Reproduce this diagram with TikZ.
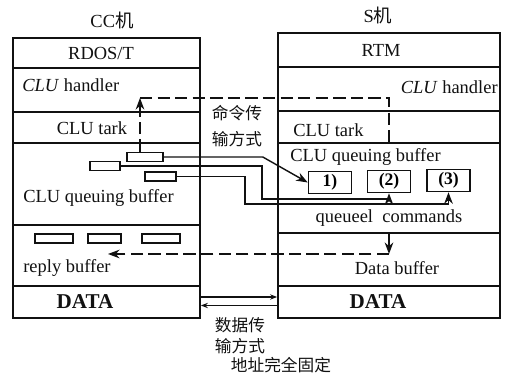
\documentclass[tikz,border=0pt]{standalone}
\usepackage{fontspec}
\setmainfont{Liberation Serif}
\newfontfamily\cjk{Noto Sans CJK SC}
\usepackage{tikz}
\usetikzlibrary{arrows.meta, positioning, calc}
\usepackage{xcolor}
\definecolor{ScanBlack}{HTML}{111111}
\definecolor{ScanWhite}{HTML}{FFFFFF}
\tikzset{
    ccrow/.style={
        draw=ScanBlack,
        line width=1pt,
        minimum width=3.74cm,
        minimum height=#1,
        inner sep=0pt
    },
    ccrow/.default=0.6cm,
    srow/.style={
        draw=ScanBlack,
        line width=1pt,
        minimum width=4.44cm,
        minimum height=#1,
        inner sep=0pt
    },
    srow/.default=0.6cm,
    slot/.style={
        draw=ScanBlack,
        line width=0.9pt,
        minimum width=#1,
        minimum height=0.18cm,
        inner sep=0pt
    },
    slot/.default=0.7cm,
    qbox/.style={
        draw=ScanBlack,
        line width=0.9pt,
        minimum width=0.86cm,
        minimum height=0.44cm,
        font=\fontsize{10}{12}\selectfont\bfseries,
        inner sep=0pt
    },
    txt/.style={
        text=ScanBlack,
        font=\fontsize{10.5}{12}\selectfont,
        inner sep=0pt
    },
    bigtxt/.style={
        text=ScanBlack,
        font=\fontsize{12}{14}\selectfont\bfseries,
        inner sep=0pt
    },
    cntxt/.style={
        text=ScanBlack,
        font=\cjk\fontsize{9.5}{11}\selectfont,
        inner sep=0pt
    },
    arrow/.style={
        ->,
        >=Stealth,
        line width=0.8pt,
        ScanBlack
    },
    wire/.style={
        line width=0.8pt,
        ScanBlack
    },
    dashline/.style={
        dashed,
        dash pattern=on 7pt off 3pt,
        line width=0.8pt,
        ScanBlack
    }
}

\begin{document}
\begin{tikzpicture}[x=0.02cm, y=-0.02cm]
                \useasboundingbox[fill=ScanWhite] (0,0) rectangle (505,378);

                % CC machine
                \node[txt] (cctitle) at (112,20) {CC{\cjk 机}};
                \node[ccrow=0.6cm] (cc1) at (106.5,53) {};
                \node[ccrow=0.88cm] (cc2) at (106.5,90) {};
                \node[ccrow=0.62cm] (cc3) at (106.5,127.5) {};
                \node[ccrow=1.64cm] (cc4) at (106.5,184) {};
                \node[ccrow=1.22cm] (cc5) at (106.5,255.5) {};
                \node[ccrow=0.64cm] (cc6) at (106.5,302) {};

                \node[txt] (rdos) at (101,53) {RDOS/T};
                \node[txt, anchor=west] (cchand) at (22,85) {\textit{CLU} handler};
                \node[txt] (cctask) at (92,128) {CLU tark};
                \node[txt, anchor=west] (ccqueue) at (23,198) {CLU queuing buffer};
                \node[txt, anchor=west] (ccreply) at (23,268) {reply buffer};
                \node[bigtxt] (ccdata) at (85,302) {DATA};

                \node[slot=0.72cm] (r1) at (145,157) {};
                \node[slot=0.6cm] (r2) at (105,166) {};
                \node[slot=0.62cm] (r3) at (160.5,176.5) {};

                \node[slot=0.76cm] (rb1) at (54,238.5) {};
                \node[slot=0.66cm] (rb2) at (104.5,238.5) {};
                \node[slot=0.76cm] (rb3) at (161,238.5) {};

                % S machine
                \node[txt] (stitle) at (378,15) {S{\cjk 机}};
                \node[srow=0.68cm] (s1) at (389,50) {};
                \node[srow=0.88cm] (s2) at (389,89) {};
                \node[srow=0.64cm] (s3) at (389,127) {};
                \node[srow=1.8cm] (s4) at (389,188) {};
                \node[srow=1.06cm] (s5) at (389,259.5) {};
                \node[srow=0.64cm] (s6) at (389,302) {};

                \node[txt] (rtm) at (381,50) {RTM};
                \node[txt, anchor=east] (shand) at (498,87) {\textit{CLU} handler};
                \node[txt, anchor=west] (stask) at (293,130) {CLU tark};
                \node[txt, anchor=west] (squeue) at (290,157) {CLU queuing buffer};
                \node[txt] (queued) at (389,218) {queueel\enspace commands};
                \node[txt] (sdata) at (397,268) {Data buffer};
                \node[bigtxt] (sdata2) at (378,302) {DATA};

                \node[qbox] (b1) at (330,182.5) {1)};
                \node[qbox] (b2) at (389,181.5) {(2)};
                \node[qbox] (b3) at (448.5,180.5) {(3)};

                % command transfer
                \node[cntxt] (cmd1) at (237,113) {命令传};
                \node[cntxt] (cmd2) at (237,139) {输方式};

                \coordinate (tl) at (140,98);
                \draw[arrow, dashline] (r1.north -| tl) -- (tl);
                \draw[dashline] (tl) -| (s3.south);

                \draw[arrow] (r1.east) -- ++(99,0) -- (b1.west);
                \draw[arrow] (r2.east) -| (262,199) -| (b2.south);
                \draw[arrow] (r3.east) -| (245,204) -| (b3.south);

                % reply path
                \coordinate (db) at (389,254);
                \coordinate (rb) at (108,254);
                \draw[arrow] (s4.south) -- (db);
                \draw[arrow, dashline] (db) -- (rb);

                % data transfer
                \draw[arrow, >={Stealth[length=4pt]}] ([yshift=0.1cm]cc6.east) -- ([yshift=0.1cm]s6.west);
                \draw[arrow, >={Stealth[length=4pt]}] ([yshift=-0.07cm]s6.west) -- ([yshift=-0.07cm]cc6.east);

                \node[cntxt] (dat1) at (240,325) {数据传};
                \node[cntxt] (dat2) at (240,346) {输方式};
                \node[cntxt] (dat3) at (281,365) {地址完全固定};
            \end{tikzpicture}
\end{document}
